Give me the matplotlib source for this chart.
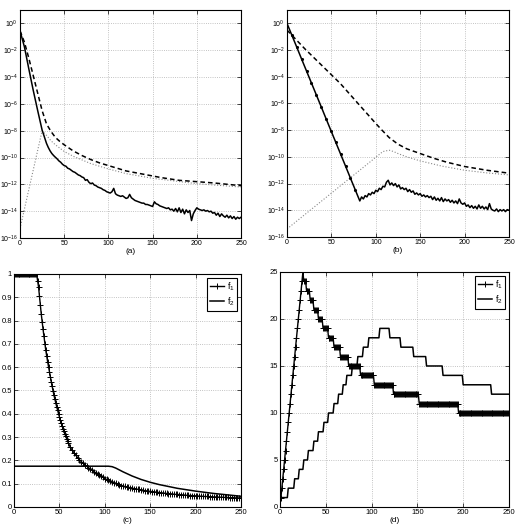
import numpy as np
import matplotlib
matplotlib.use('Agg')
import matplotlib.pyplot as plt

plt.rcParams['font.family'] = ['Liberation Sans', 'DejaVu Sans']
plt.rcParams['mathtext.default'] = 'regular'

# ---- panel (a): log10 of error curves ----
a_solid_x = [0, 5, 10, 15, 20, 25] + list(range(26, 251, 2))
a_solid_y = [-0.55, -1.75, -3.4, -5.0, -6.5, -7.95,
             -8.15, -8.55, -8.95, -9.25, -9.5, -9.7, -9.85, -9.98, -10.1, -10.25,
             -10.35, -10.5, -10.6, -10.65, -10.8, -10.85, -10.95, -11.05, -11.1, -11.2,
             -11.3, -11.35, -11.45, -11.5, -11.7, -11.65, -11.85, -11.95, -11.9, -12.05,
             -12.1, -12.2, -12.25, -12.3, -12.4, -12.45, -12.55, -12.6, -12.65, -12.55,
             -12.3, -12.7, -12.8, -12.85, -12.9, -12.85, -12.95, -13.05, -13.0, -12.75,
             -13.0, -13.1, -13.2, -13.25, -13.3, -13.35, -13.4, -13.4, -13.5, -13.5,
             -13.55, -13.6, -13.65, -13.3, -13.45, -13.5, -13.6, -13.65, -13.7, -13.75,
             -13.8, -13.75, -13.9, -13.85, -14.0, -13.8, -14.05, -13.75, -14.1, -13.85,
             -14.2, -13.9, -14.1, -13.95, -14.7, -14.2, -13.95, -13.75, -13.85, -13.9,
             -13.95, -13.9, -14.0, -13.95, -14.05, -14.0, -14.15, -14.1, -14.3, -14.15,
             -14.4, -14.2, -14.35, -14.45, -14.3, -14.5, -14.35, -14.55, -14.4, -14.6,
             -14.45, -14.55, -14.45]
a_dash_x = [0, 5, 10, 15, 20, 25, 30, 35, 40, 45, 50, 60, 70, 80, 90, 100, 120, 140,
            160, 180, 200, 220, 250]
a_dash_y = [-0.55, -1.4, -2.6, -3.9, -5.2, -6.5, -7.5, -8.05, -8.5, -8.8, -9.05, -9.5,
            -9.85, -10.15, -10.4, -10.6, -11.0, -11.25, -11.5, -11.7, -11.8, -11.9, -12.1]
a_dot_x = [0, 25, 30, 35, 40, 50, 60, 80, 100, 120, 150, 200, 250]
a_dot_y = [-15.3, -8.0, -8.35, -8.75, -9.05, -9.55, -9.9, -10.45, -10.85, -11.2,
           -11.55, -11.95, -12.2]

# ---- panel (b) ----
b_solid_x = [0, 5.5, 11, 16.5, 22, 27.5, 33, 38.5, 44, 49.5, 55, 60.5, 66, 71.5, 77] + \
    list(range(82, 251, 2))
b_solid_y = [0.0, -0.89, -1.78, -2.68, -3.57, -4.46, -5.35, -6.24, -7.14, -8.03, -8.92,
             -9.81, -10.7, -11.6, -12.49,
             -13.3, -13.0, -13.15, -12.9, -13.0, -12.75, -12.85, -12.65, -12.75, -12.5,
             -12.6, -12.35, -12.45, -12.2, -12.25, -11.9, -11.75, -12.1, -11.95, -12.15,
             -12.0, -12.25, -12.1, -12.4, -12.3, -12.45, -12.35, -12.6, -12.45, -12.65,
             -12.55, -12.8, -12.7, -12.85, -12.75, -12.95, -12.85, -13.0, -12.9, -13.05,
             -12.95, -13.2, -13.0, -13.25, -13.1, -13.3, -13.05, -13.35, -13.15, -13.3,
             -13.2, -13.4, -13.25, -13.45, -13.3, -13.5, -13.15, -13.45, -13.55, -13.45,
             -13.7, -13.6, -13.8, -13.65, -13.85, -13.7, -13.9, -13.6, -13.85, -13.7,
             -13.9, -13.75, -13.95, -13.5, -13.9, -14.0, -14.05, -13.9, -14.1, -13.95,
             -14.05, -13.95, -14.1, -13.95, -14.0]
b_dash_x = [0, 10, 20, 30, 40, 50, 60, 70, 80, 90, 100, 107, 115, 125, 135, 150, 165,
            180, 200, 225, 250]
b_dash_y = [-0.5, -1.2, -1.9, -2.55, -3.2, -3.85, -4.5, -5.25, -6.0, -6.75, -7.5, -8.0,
            -8.55, -9.05, -9.4, -9.75, -10.1, -10.4, -10.72, -11.0, -11.22]
b_dot_x = [0, 108, 115, 120, 125, 135, 150, 175, 200, 225, 250]
b_dot_y = [-15.4, -9.6, -9.5, -9.6, -9.75, -10.0, -10.3, -10.7, -11.0, -11.2, -11.35]

# ---- panel (c) ----
c_f1_x = list(range(0, 61)) + list(range(62, 251, 2))
c_f1_y = [1.0] * 26 + [
    0.97, 0.945, 0.905, 0.867, 0.828, 0.794, 0.762, 0.732, 0.70, 0.672, 0.647, 0.624,
    0.602, 0.58, 0.558, 0.538, 0.518, 0.498, 0.479, 0.462, 0.446, 0.43, 0.415, 0.40,
    0.386, 0.373, 0.36, 0.347, 0.335, 0.324, 0.313, 0.303, 0.293, 0.283, 0.274,
    0.256, 0.244, 0.233, 0.222, 0.212, 0.203, 0.195, 0.188, 0.181, 0.175, 0.169, 0.163,
    0.158, 0.152, 0.147, 0.142, 0.137, 0.132, 0.127, 0.122, 0.118, 0.114, 0.110, 0.107,
    0.104, 0.101, 0.098, 0.095, 0.092, 0.090, 0.088, 0.086, 0.084, 0.083, 0.081, 0.079,
    0.078, 0.076, 0.075, 0.073, 0.072, 0.070, 0.069, 0.068, 0.067, 0.066, 0.065, 0.064,
    0.063, 0.062, 0.061, 0.060, 0.059, 0.058, 0.057, 0.057, 0.056, 0.055, 0.054, 0.054,
    0.053, 0.052, 0.052, 0.051, 0.050, 0.050, 0.049, 0.049, 0.048, 0.048, 0.047, 0.047,
    0.046, 0.046, 0.045, 0.045, 0.045, 0.044, 0.044, 0.043, 0.043, 0.043, 0.042, 0.042,
    0.042, 0.041, 0.041, 0.041, 0.040, 0.040, 0.040, 0.039, 0.039, 0.039, 0.039]
c_f2_x = [0, 100, 104, 108, 112, 116, 120, 125, 130, 140, 150, 160, 170, 180, 190, 200,
          210, 220, 230, 240, 250]
c_f2_y = [0.175, 0.175, 0.175, 0.173, 0.167, 0.159, 0.151, 0.142, 0.133, 0.118, 0.106,
          0.096, 0.088, 0.080, 0.074, 0.068, 0.063, 0.058, 0.054, 0.050, 0.046]

# ---- panel (d): integer staircases (level, number of points) ----
d_f1_rise = list(range(1, 26))          # x = 1..25
d_f1_levels = [24, 23, 22, 21, 20, 19, 18, 17, 16, 15, 14, 13, 12, 11, 10]
d_f1_counts = [3, 4, 4, 5, 5, 6, 6, 7, 9, 13, 15, 21, 28, 43, 56]
d_f2_levels = [1, 2, 3, 4, 5, 6, 7, 8, 9, 10, 11, 12, 13, 14, 15, 16, 17, 18, 19,
               18, 17, 16, 15, 14, 13, 12]
d_f2_counts = [9, 7, 5, 5, 5, 6, 5, 6, 5, 6, 5, 5, 4, 6, 6, 6, 6, 12, 11,
               12, 14, 14, 18, 22, 31, 20]

d_f1 = np.concatenate([d_f1_rise, np.repeat(d_f1_levels, d_f1_counts)])
d_f1_x = np.arange(1, 1 + len(d_f1))
d_f2 = np.repeat(d_f2_levels, d_f2_counts)
d_f2_x = np.arange(len(d_f2))

fig = plt.figure(figsize=(5.17, 5.27), dpi=100)
ax_a = fig.add_axes([0.0387, 0.5484, 0.4275, 0.4326])
ax_b = fig.add_axes([0.5551, 0.5503, 0.4294, 0.4307])
ax_c = fig.add_axes([0.0271, 0.0380, 0.4391, 0.4421])
ax_d = fig.add_axes([0.5416, 0.0380, 0.4429, 0.4459])

gridkw = dict(color='#b0b0b0', linestyle=':', linewidth=0.6)


def style(ax, label, size=5.5):
    ax.grid(True, **gridkw)
    ax.tick_params(direction='in', labelsize=size, length=3, width=0.5, pad=1.5,
                   top=True, right=True)
    for s in ax.spines.values():
        s.set_linewidth(0.8)
    ax.set_xlim(0, 250)
    ax.set_xticks([0, 50, 100, 150, 200, 250])
    ax.set_xlabel(label, fontsize=6, labelpad=1)


for ax, sx, sy, dx, dy, ox, oy, lab in [
        (ax_a, a_solid_x, a_solid_y, a_dash_x, a_dash_y, a_dot_x, a_dot_y, '(a)'),
        (ax_b, b_solid_x, b_solid_y, b_dash_x, b_dash_y, b_dot_x, b_dot_y, '(b)')]:
    ax.set_yscale('log')
    ax.plot(ox, 10.0 ** np.array(oy), color='#888888', linestyle=':', linewidth=0.8)
    ax.plot(dx, 10.0 ** np.array(dy), color='black', linestyle=(0, (3, 2)), linewidth=1.1)
    if ax is ax_b:
        ax.plot(sx, 10.0 ** np.array(sy), color='black', linewidth=1.1,
                marker='.', markersize=2.5, markevery=list(range(1, 15)))
    else:
        ax.plot(sx, 10.0 ** np.array(sy), color='black', linewidth=1.1)
    ax.set_ylim(1e-16, 1e1)
    ax.set_yticks([10.0 ** k for k in range(0, -17, -2)])
    ax.yaxis.set_minor_locator(matplotlib.ticker.NullLocator())
    style(ax, lab, size=5)

ax_c.plot(c_f1_x, c_f1_y, color='black', linewidth=1.0, marker='+', markersize=5,
          markeredgewidth=0.7, label='f$_1$')
ax_c.plot(c_f2_x, c_f2_y, color='black', linewidth=1.1, label='f$_2$')
ax_c.set_ylim(0, 1)
ax_c.set_yticks(np.arange(0, 1.01, 0.1))
ax_c.set_yticklabels(['0', '0.1', '0.2', '0.3', '0.4', '0.5', '0.6', '0.7', '0.8',
                      '0.9', '1'])
style(ax_c, '(c)')

ax_d.plot(d_f1_x, d_f1, color='black', linewidth=1.0, marker='+', markersize=4.5,
          markeredgewidth=0.7, label='f$_1$')
ax_d.plot(d_f2_x, d_f2, color='black', linewidth=1.1, label='f$_2$')
ax_d.set_ylim(0, 25)
ax_d.set_yticks([0, 5, 10, 15, 20, 25])
style(ax_d, '(d)')

for ax in (ax_c, ax_d):
    leg = ax.legend(loc='upper right', fontsize=6.5, handlelength=1.6,
                    borderaxespad=0.4, fancybox=False, framealpha=1,
                    edgecolor='black', borderpad=0.3, labelspacing=0.3,
                    handletextpad=0.3)
    leg.get_frame().set_linewidth(0.8)

fig.savefig('out.png', dpi=100)
